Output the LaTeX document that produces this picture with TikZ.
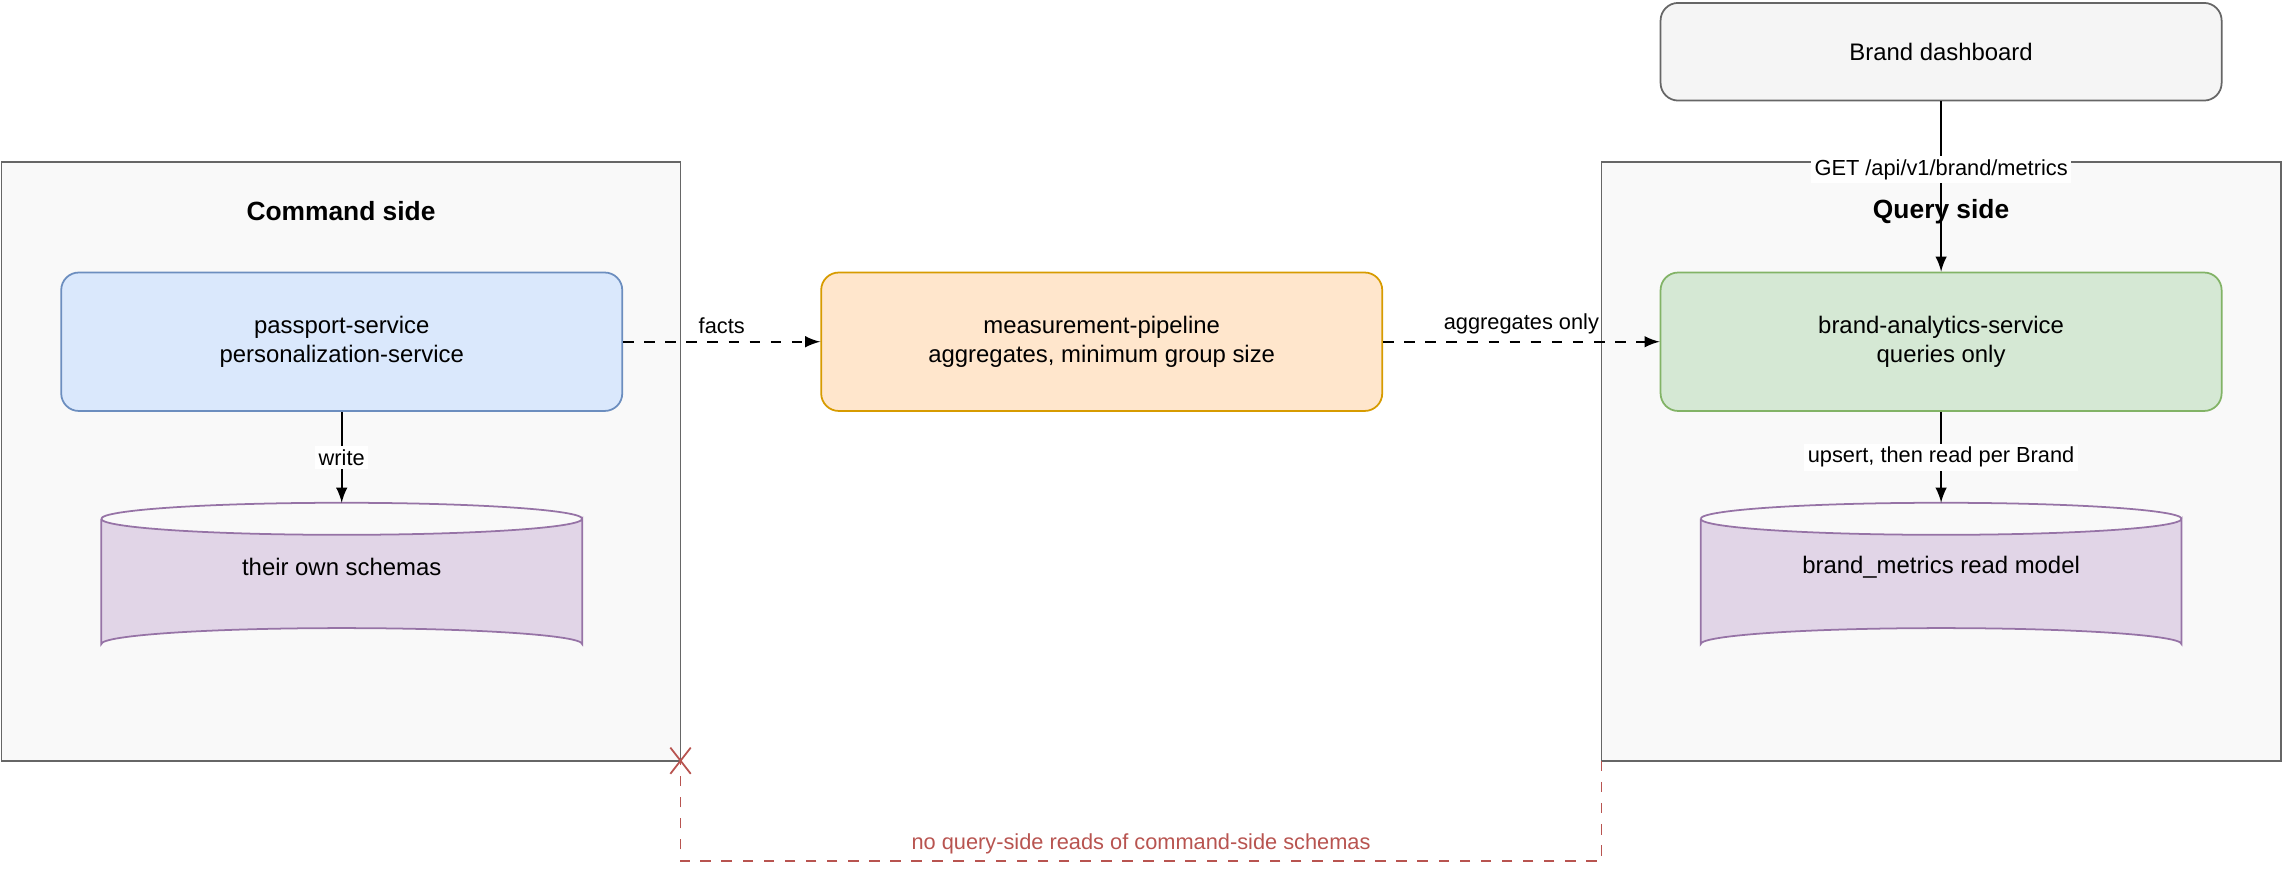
\documentclass[tikz,border=0pt]{standalone}
\usepackage{fontspec}
\setmainfont{Liberation Sans}
\usetikzlibrary{positioning}
\definecolor{blueF}{HTML}{DAE8FC}\definecolor{blueD}{HTML}{6C8EBF}
\definecolor{orgF}{HTML}{FFE6CC}\definecolor{orgD}{HTML}{D79B00}
\definecolor{grnF}{HTML}{D5E8D4}\definecolor{grnD}{HTML}{82B366}
\definecolor{purF}{HTML}{E1D5E7}\definecolor{purD}{HTML}{9673A6}
\definecolor{grayF}{HTML}{F5F5F5}\definecolor{grayD}{HTML}{666666}
\definecolor{sideF}{HTML}{F9F9F9}\definecolor{redD}{HTML}{B85450}
\tikzset{
  txt/.style={font=\fontsize{6.8}{8.2}\selectfont, align=center},
  side/.style={draw=grayD, fill=sideF, line width=0.5pt},
  svc/.style={txt, rounded corners=5pt, line width=0.5pt, minimum width=385*0.01457cm, minimum height=95*0.01457cm},
  lbl/.style={font=\fontsize{6.2}{7}\selectfont, fill=white, inner sep=1pt},
  arr/.style={-latex, line width=0.5pt},
}
\begin{document}
\begin{tikzpicture}[x=0.01457cm, y=-0.01457cm]
\useasboundingbox (0,0) rectangle (1568,613);
% side frames
\draw [side] (1,111) rectangle (467,522);
\draw [side] (1099,111) rectangle (1565,522);
\node [txt, font=\fontsize{7.5}{9}\bfseries] (cmdT) at (234,145) {Command side};
\node [txt, font=\fontsize{7.5}{9}\bfseries] (qryT) at (1332,145) {Query side};
% services
\node [svc, draw=blueD, fill=blueF] (pass) at (234.5,234.5) {passport-service\\personalization-service};
\node [svc, draw=orgD, fill=orgF] (meas) at (756,234.5) {measurement-pipeline\\aggregates, minimum group size};
\node [svc, draw=grnD, fill=grnF] (brand) at (1332,234.5) {brand-analytics-service\\queries only};
\node [svc, draw=grayD, fill=grayF, minimum height=67*0.01457cm] (dash) at (1332,35.5) {Brand dashboard};
% databases
\foreach \cx/\nm/\tx in {234.5/dbA/their own schemas, 1332/dbB/brand\_metrics read model}{
  \draw [draw=purD, fill=purF, line width=0.5pt] (\cx-165,356) -- (\cx-165,442)
     arc [start angle=180, end angle=360, x radius=165, y radius=11] -- (\cx+165,356)
     arc [start angle=0, end angle=180, x radius=165, y radius=11];
  \draw [draw=purD, line width=0.5pt] (\cx-165,356) arc [start angle=180, end angle=360, x radius=165, y radius=11];
  \coordinate (\nm top) at (\cx,345);
  \node [txt] (\nm) at (\cx,389) {\tx};
}
% connectors
\draw [arr] (pass) -- (dbAtop) node [lbl, midway] {write};
\draw [arr] (brand) -- (dbBtop) node [lbl, midway] {upsert, then read per Brand};
\draw [arr] (dash) -- (brand) node [lbl, pos=0.4] {GET /api/v1/brand/metrics};
\draw [arr, dashed] (pass) -- (meas) node [lbl, midway, above=1pt, fill=none] {facts};
\draw [arr, dashed] (meas) -- (brand) node [lbl, midway, above=1pt, fill=none] {aggregates only};
% forbidden read
\coordinate (qc) at (1099,522);
\coordinate (cc) at (467,522);
\draw [redD, dashed, line width=0.5pt] (qc) -- (1099,591) -- (467,591) -- (cc);
\draw [redD, line width=0.5pt] (460,513) -- (474,531) (474,513) -- (460,531);
\node [lbl, text=redD, fill=none] (noread) at (783,579) {no query-side reads of command-side schemas};
\end{tikzpicture}
\end{document}
